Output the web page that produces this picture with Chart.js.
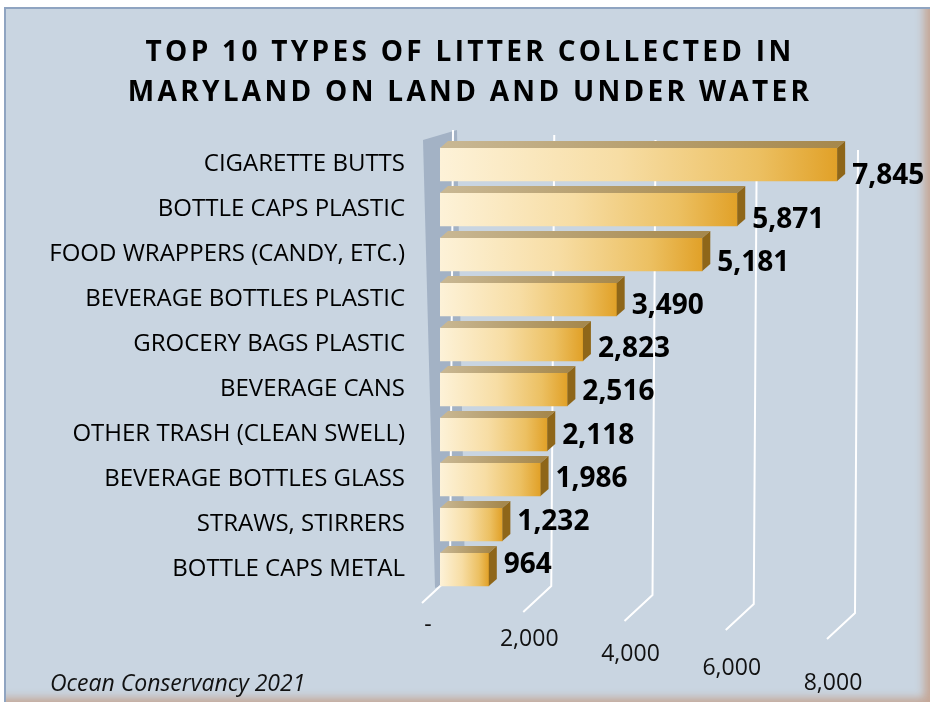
<!DOCTYPE html>
<html>
<head>
<meta charset="utf-8">
<script src="https://cdn.jsdelivr.net/npm/chart.js@4.4.1/dist/chart.umd.min.js"></script>
<style>
  html, body { margin: 0; padding: 0; background: #fff; }
  #wrap { position: relative; width: 930px; height: 702px; overflow: hidden; }
  #panel {
    position: absolute; left: 4px; top: 7px; width: 924px; height: 693px;
    background: #c9d5e1;
    border-top: 2px solid #8fa4c1; border-left: 2px solid #8fa4c1;
    box-shadow: inset -9px -7px 9px -3px rgba(196, 164, 146, 0.95);
  }
  canvas { position: absolute; left: 0; top: 0; }
</style>
</head>
<body>
<div id="wrap">
  <div id="panel"></div>
  <canvas id="chart" width="930" height="702"></canvas>
</div>
<script>
const categories = [
  'CIGARETTE BUTTS', 'BOTTLE CAPS PLASTIC', 'FOOD WRAPPERS (CANDY, ETC.)',
  'BEVERAGE BOTTLES PLASTIC', 'GROCERY BAGS PLASTIC', 'BEVERAGE CANS',
  'OTHER TRASH (CLEAN SWELL)', 'BEVERAGE BOTTLES GLASS', 'STRAWS, STIRRERS',
  'BOTTLE CAPS METAL'
];
const itemCounts = [7845, 5871, 5181, 3490, 2823, 2516, 2118, 1986, 1232, 964];
const axisTicks = [0, 2000, 4000, 6000, 8000];
const axisTickLabels = ['-', '2,000', '4,000', '6,000', '8,000'];
const titleLines = ['TOP 10 TYPES OF LITTER COLLECTED IN', 'MARYLAND ON LAND AND UNDER WATER'];
const sourceNote = 'Ocean Conservancy 2021';

// depth of the fake 3D bars
const depth = { dx: 8, dy: -7 };

// title, back wall, gridlines and axis labels
const backdrop = {
  id: 'backdrop',
  beforeDatasetsDraw(chart) {
    const { ctx, chartArea: a, scales: { x } } = chart;
    const x0 = x.getPixelForValue(0);
    ctx.save();

    ctx.fillStyle = '#a3b2c5';
    ctx.beginPath();
    ctx.moveTo(x0 - 17, a.top - 2);
    ctx.lineTo(x0 + 17, a.top - 12);
    ctx.lineTo(x0 + 25, a.bottom - 15);
    ctx.lineTo(x0 - 5, a.bottom - 4);
    ctx.closePath();
    ctx.fill();

    ctx.strokeStyle = '#ffffff';
    ctx.lineWidth = 2;
    axisTicks.forEach((v, i) => {
      const gx = x.getPixelForValue(v);
      const top = a.top - 12 + i * 5;
      const bottom = a.bottom - 15 + i * 9;
      ctx.beginPath();
      ctx.moveTo(gx + 13, top);
      ctx.lineTo(gx + 10, bottom);
      ctx.lineTo(gx - 18, bottom + 26);
      ctx.stroke();
    });

    ctx.fillStyle = '#111';
    ctx.font = '23px "Open Sans"';
    ctx.textAlign = 'center';
    ctx.textBaseline = 'middle';
    axisTicks.forEach((v, i) => {
      ctx.fillText(axisTickLabels[i], x.getPixelForValue(v) - 12, a.bottom + 33 + i * 14.5);
    });

    ctx.font = 'bold 28px "Open Sans"';
    ctx.letterSpacing = '3.3px';
    ctx.fillStyle = '#000';
    titleLines.forEach((t, i) => ctx.fillText(t, 470, 53 + i * 40));
    ctx.letterSpacing = '0px';

    ctx.font = 'italic 23px "Open Sans"';
    ctx.textAlign = 'left';
    ctx.fillStyle = '#111';
    ctx.fillText(sourceNote, 50, 684);
    ctx.restore();
  }
};

// top face, end face and value labels
const bars3d = {
  id: 'bars3d',
  afterDatasetsDraw(chart) {
    const { ctx } = chart;
    const meta = chart.getDatasetMeta(0);
    ctx.save();
    meta.data.forEach((bar, i) => {
      const { x, y, base, height } = bar.getProps(['x', 'y', 'base', 'height'], true);
      const yT = y - height / 2, yB = y + height / 2;
      const top = ctx.createLinearGradient(base, 0, x, 0);
      top.addColorStop(0, '#c9b894');
      top.addColorStop(1, '#a6884c');
      ctx.fillStyle = top;
      ctx.beginPath();
      ctx.moveTo(base, yT);
      ctx.lineTo(base + depth.dx, yT + depth.dy);
      ctx.lineTo(x + depth.dx, yT + depth.dy);
      ctx.lineTo(x, yT);
      ctx.closePath();
      ctx.fill();

      ctx.fillStyle = '#8e6619';
      ctx.beginPath();
      ctx.moveTo(x, yT);
      ctx.lineTo(x + depth.dx, yT + depth.dy);
      ctx.lineTo(x + depth.dx, yB + depth.dy);
      ctx.lineTo(x, yB);
      ctx.closePath();
      ctx.fill();

      // value labels sit a little lower near the top, like the tilted original
      ctx.fillStyle = '#000';
      ctx.font = 'bold 28px "Open Sans"';
      ctx.textAlign = 'left';
      ctx.textBaseline = 'middle';
      ctx.fillText(itemCounts[i].toLocaleString('en-US'), x + depth.dx + 7, y + 12 - i * 1.8);
    });
    ctx.restore();
  }
};

new Chart(document.getElementById('chart'), {
  type: 'bar',
  data: {
    labels: categories,
    datasets: [{
      data: itemCounts,
      barThickness: 33,
      borderWidth: 0,
      backgroundColor: (c) => {
        const xs = c.chart.scales.x;
        if (!xs || c.raw === undefined) return '#f0c060';
        const x0 = xs.getPixelForValue(0), x1 = xs.getPixelForValue(c.raw);
        if (!Number.isFinite(x0) || !Number.isFinite(x1)) return '#f0c060';
        const g = c.chart.ctx.createLinearGradient(x0, 0, x1, 0);
        g.addColorStop(0, '#fdf2d8');
        g.addColorStop(0.45, '#f7dda4');
        g.addColorStop(0.8, '#ecc062');
        g.addColorStop(1, '#e1a128');
        return g;
      }
    }]
  },
  options: {
    indexAxis: 'y',
    responsive: false,
    animation: false,
    layout: { padding: { top: 142, bottom: 110, right: 85, left: 0 } },
    plugins: {
      legend: { display: false },
      tooltip: { enabled: false },
      title: { display: false }
    },
    scales: {
      x: { display: false, min: 0, max: 8000 },
      y: {
        grid: { display: false, drawTicks: false },
        border: { display: false },
        ticks: { color: '#000', font: { family: 'Open Sans', size: 24 }, padding: 35 },
        afterFit: (s) => { s.width = 440; }
      }
    }
  },
  plugins: [backdrop, bars3d]
});
</script>
</body>
</html>
